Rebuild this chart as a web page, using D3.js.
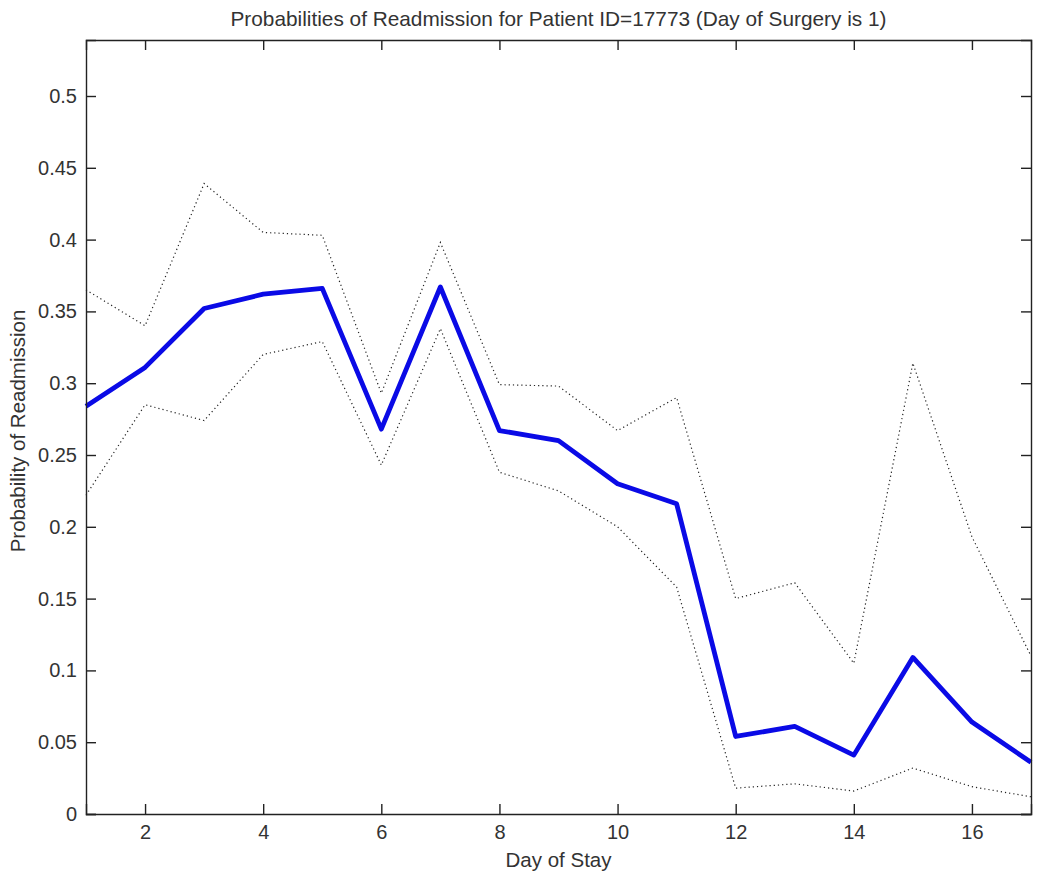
<!DOCTYPE html>
<html>
<head>
<meta charset="utf-8">
<script src="https://cdn.jsdelivr.net/npm/d3@7"></script>
<style>
  body { margin: 0; background: #fff; }
  svg { display: block; font-family: "Liberation Sans", Arial, sans-serif; }
</style>
</head>
<body>
<svg id="chart" width="1050" height="881"></svg>
<script>
// data
const days = d3.range(1, 18);
const prob = [0.284, 0.311, 0.352, 0.362, 0.366, 0.268, 0.367, 0.267, 0.260, 0.230, 0.216, 0.054, 0.061, 0.041, 0.109, 0.064, 0.036];
const upper = [0.365, 0.340, 0.439, 0.405, 0.403, 0.293, 0.398, 0.299, 0.298, 0.267, 0.290, 0.150, 0.161, 0.105, 0.314, 0.193, 0.110];
const lower = [0.222, 0.285, 0.274, 0.320, 0.329, 0.243, 0.338, 0.238, 0.225, 0.200, 0.158, 0.018, 0.021, 0.016, 0.032, 0.019, 0.012];
const xTicks = [2, 4, 6, 8, 10, 12, 14, 16];
const yTicks = [0, 0.05, 0.1, 0.15, 0.2, 0.25, 0.3, 0.35, 0.4, 0.45, 0.5];

const margin = { left: 86, right: 19, top: 40, bottom: 67 };
const width = 1050, height = 881;

const svg = d3.select('#chart');

const x = d3.scaleLinear().domain([1, 17]).range([margin.left, width - margin.right]);
const y = d3.scaleLinear().domain([0, 0.539]).range([height - margin.bottom, margin.top]);

const line = d3.line().x((d, i) => x(days[i])).y(d => y(d));

// dotted bounds
[upper, lower].forEach(s => {
  svg.append('path')
    .attr('d', line(s))
    .attr('fill', 'none')
    .attr('stroke', '#222')
    .attr('stroke-width', 1.2)
    .attr('stroke-dasharray', '1.2,3');
});

svg.append('path')
  .attr('d', line(prob))
  .attr('fill', 'none')
  .attr('stroke', '#0a0ae6')
  .attr('stroke-width', 4.8)
  .attr('stroke-linejoin', 'round');

// axes: MATLAB style box with inward ticks
const tickLen = 10;
const axisColor = '#222';
const textColor = '#333';

const xb = svg.append('g').attr('transform', `translate(0,${y(0)})`)
  .call(d3.axisBottom(x).tickValues(xTicks).tickSize(-tickLen).tickPadding(11).tickFormat(d3.format('d')));
const xt = svg.append('g').attr('transform', `translate(0,${margin.top})`)
  .call(d3.axisTop(x).tickValues(xTicks).tickSize(-tickLen).tickFormat(''));
const yl = svg.append('g').attr('transform', `translate(${margin.left},0)`)
  .call(d3.axisLeft(y).tickValues(yTicks).tickSize(-tickLen).tickPadding(9).tickFormat(d => d === 0 ? '0' : String(d)));
const yr = svg.append('g').attr('transform', `translate(${width - margin.right},0)`)
  .call(d3.axisRight(y).tickValues(yTicks).tickSize(-tickLen).tickFormat(''));

[xb, xt, yl, yr].forEach(g => {
  g.select('.domain').attr('stroke', axisColor).attr('stroke-width', 1.4);
  g.selectAll('.tick line').attr('stroke', axisColor).attr('stroke-width', 1.4);
  g.selectAll('.tick text').attr('fill', textColor).style('font-size', '20px');
});

// titles
svg.append('text')
  .attr('x', (margin.left + width - margin.right) / 2)
  .attr('y', 26)
  .attr('text-anchor', 'middle')
  .attr('fill', textColor)
  .style('font-size', '20.8px')
  .text('Probabilities of Readmission for Patient ID=17773 (Day of Surgery is 1)');

svg.append('text')
  .attr('x', (margin.left + width - margin.right) / 2)
  .attr('y', 867)
  .attr('text-anchor', 'middle')
  .attr('fill', textColor)
  .style('font-size', '20.5px')
  .text('Day of Stay');

svg.append('text')
  .attr('transform', `translate(25,${(margin.top + height - margin.bottom) / 2 + 4}) rotate(-90)`)
  .attr('text-anchor', 'middle')
  .attr('fill', textColor)
  .style('font-size', '20.5px')
  .text('Probability of Readmission');
</script>
</body>
</html>
